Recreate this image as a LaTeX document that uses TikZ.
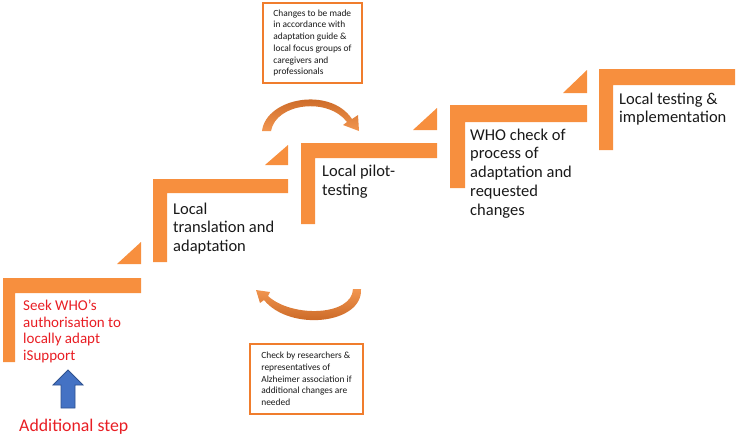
\documentclass[tikz,border=0pt]{standalone}
\usepackage{fontspec}
\setmainfont{Carlito}
\definecolor{barorange}{RGB}{247,143,62}
\definecolor{boxorange}{RGB}{240,125,45}
\definecolor{arcdark}{RGB}{190,90,25}
\definecolor{arclight}{RGB}{242,150,80}
\definecolor{redtext}{RGB}{232,30,36}
\definecolor{bluefill}{RGB}{68,114,196}
\definecolor{blueline}{RGB}{47,82,143}
\begin{document}
\begin{tikzpicture}[x=1pt,y=-1pt,
  bar/.style={fill=barorange,draw=none},
  steptext/.style={anchor=north west,inner sep=0pt,align=left,text=black!90,
    font=\fontsize{16.5}{18.8}\selectfont},
  notebox/.style={draw=boxorange,line width=2.2pt,fill=white,inner sep=0pt,align=left,
    text=black!90,font=\fontsize{9.4}{11.7}\selectfont}]
\useasboundingbox (0,0) rectangle (738,437);
% step 1
\path[bar] (3,278) -- (141,278) -- (141,293) -- (15,293) -- (15,362) -- (3,362) -- cycle;
\path[bar] (117,264) -- (141,264) -- (141,242) -- cycle;
% step 2
\path[bar] (153,179) -- (288,179) -- (288,193) -- (167,193) -- (167,262) -- (153,262) -- cycle;
\path[bar] (265,165) -- (288,165) -- (288,145) -- cycle;
% step 3
\path[bar] (301,143) -- (437,143) -- (437,158) -- (315,158) -- (315,224) -- (301,224) -- cycle;
\path[bar] (413,130) -- (437,130) -- (437,108) -- cycle;
% step 4
\path[bar] (450,105) -- (587,105) -- (587,122) -- (465,122) -- (465,188) -- (450,188) -- cycle;
\path[bar] (563,93) -- (587,93) -- (587,70) -- cycle;
% step 5
\path[bar] (599,69) -- (735,69) -- (735,85) -- (613,85) -- (613,150) -- (599,150) -- cycle;

% texts
\node[steptext,text=redtext,font=\fontsize{15}{16.6}\selectfont] (s1) at (23,300)
  {Seek WHO’s\\authorisation to\\locally adapt\\iSupport};
\node[steptext] (s2) at (173,202.5) {Local\\translation and\\adaptation};
\node[steptext] (s3) at (322,165) {Local pilot-\\testing};
\node[steptext] (s4) at (470,128.5) {WHO check of\\process of\\adaptation and\\requested\\changes};
\node[steptext] (s5) at (619,92.5) {Local testing \&\\implementation};

% note boxes
\node[notebox,minimum width=99pt,minimum height=80pt] (top) at (312.5,43)
  {Changes to be made\\in accordance with\\adaptation guide \&\\local focus groups of\\caregivers and\\professionals};
\node[notebox,minimum width=113pt,minimum height=70pt] (bot) at (306.5,379)
  {Check by researchers \&\\representatives of\\Alzheimer association if\\additional changes are\\needed};

% curved arrows
\path[top color=arcdark,bottom color=arclight]
  (262,131) .. controls (266,98) and (330,86) .. (352,119)
  -- (358,115) -- (359,131) -- (343,125) -- (347,122)
  .. controls (328,97) and (276,103) .. (271,131) -- cycle;
\path[bottom color=arcdark,top color=arclight]
  (361,289) .. controls (363,324) and (290,332) .. (264,300)
  -- (260,303) -- (256,290) -- (270,292) -- (268,296)
  .. controls (292,318) and (352,316) .. (353,289) -- cycle;

% blue arrow and label
\path[fill=bluefill,draw=blueline,line width=0.8pt]
  (61,408) -- (61,385) -- (53,385) -- (68,370) -- (83,385) -- (75,385) -- (75,408) -- cycle;
\node[anchor=base west,inner sep=0pt,text=redtext,font=\fontsize{17.8}{20}\selectfont] (add) at (19,431) {Additional step};
\end{tikzpicture}
\end{document}
